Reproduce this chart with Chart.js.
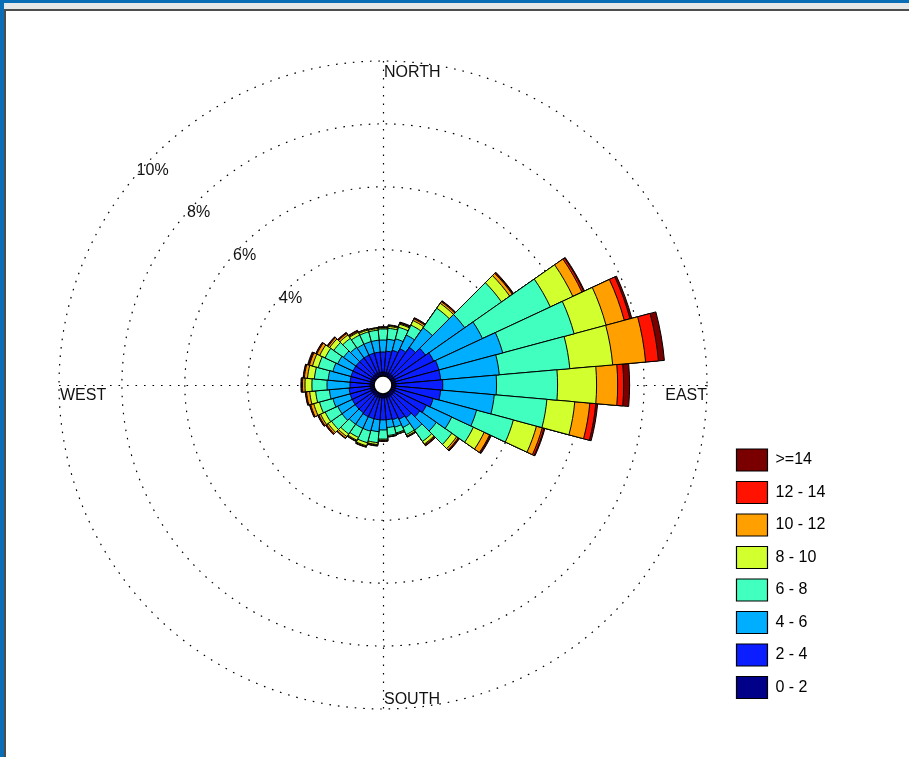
<!DOCTYPE html>
<html>
<head>
<meta charset="utf-8">
<script src="https://cdn.jsdelivr.net/npm/chart.js@4.4.1/dist/chart.umd.min.js"></script>
<style>
  html, body { margin: 0; padding: 0; background: #fff; width: 909px; height: 757px; overflow: hidden; }
  .bar { position: absolute; }
  #rose { position: absolute; left: 6px; top: 11px; }
</style>
</head>
<body>
<div class="bar" style="left:0;top:0;width:909px;height:3px;background:#0b6db6"></div>
<div class="bar" style="left:4px;top:3px;width:905px;height:6px;background:#e8e8e8"></div>
<div class="bar" style="left:0;top:0;width:4px;height:757px;background:#0b6db6"></div>
<div class="bar" style="left:4px;top:9px;width:905px;height:2px;background:#4d4d4d"></div>
<div class="bar" style="left:4px;top:9px;width:2px;height:748px;background:#4d4d4d"></div>
<canvas id="rose" width="903" height="746"></canvas>
<script>
// wind direction sectors, degrees clockwise from north
const directions = ['0','10','20','30','40','50','60','70','80','90','100','110',
  '120','130','140','150','160','170','180','190','200','210','220','230',
  '240','250','260','270','280','290','300','310','320','330','340','350'];

const speedClasses = ['0 - 2', '2 - 4', '4 - 6', '6 - 8', '8 - 10', '10 - 12', '12 - 14', '>=14'];

// frequency (%) of each speed class per direction
const freq0to2 = [0.11,0.11,0.11,0.11,0.11,0.11,0.11,0.11,0.11,0.11,0.11,0.11,
  0.11,0.11,0.11,0.11,0.11,0.11,0.11,0.11,0.11,0.11,0.11,0.11,
  0.11,0.11,0.11,0.11,0.11,0.11,0.11,0.11,0.11,0.11,0.11,0.11];
const freq2to4 = [0.64,0.67,0.73,0.86,1.05,1.24,1.37,1.43,1.43,1.49,1.43,1.24,
  1.11,1.02,0.86,0.79,0.73,0.70,0.70,0.70,0.70,0.70,0.67,0.67,
  0.67,0.67,0.67,0.64,0.64,0.64,0.64,0.64,0.64,0.64,0.64,0.64];
const freq4to6 = [0.38,0.38,0.38,0.48,0.76,1.52,1.71,2.10,1.87,1.71,1.71,1.43,
  0.89,0.64,0.48,0.29,0.25,0.25,0.32,0.38,0.41,0.41,0.44,0.51,
  0.51,0.57,0.63,0.73,0.70,0.60,0.54,0.48,0.41,0.38,0.38,0.38];
const freq6to8 = [0.35,0.35,0.38,0.35,0.76,1.43,2.38,2.35,2.25,1.94,1.68,1.21,
  0.76,0.60,0.44,0.25,0.19,0.25,0.29,0.35,0.38,0.32,0.38,0.41,
  0.44,0.44,0.44,0.48,0.44,0.48,0.44,0.38,0.35,0.32,0.32,0.32];
const freq8to10 = [0.03,0.06,0.10,0.16,0.19,0.32,0.79,1.05,1.37,1.24,0.89,0.76,
  0.38,0.19,0.10,0.05,0.03,0.03,0.03,0.06,0.10,0.10,0.10,0.13,
  0.16,0.19,0.19,0.22,0.22,0.19,0.19,0.16,0.13,0.10,0.06,0.05];
const freq10to12 = [0.02,0.03,0.03,0.06,0.06,0.10,0.32,0.60,1.05,0.67,0.48,0.19,
  0.19,0.06,0.03,0.02,0.01,0.01,0.02,0.02,0.03,0.03,0.06,0.06,
  0.06,0.10,0.10,0.08,0.10,0.10,0.10,0.06,0.06,0.03,0.03,0.02];
const freq12to14 = [0.02,0.01,0.02,0.03,0.03,0.03,0.06,0.19,0.41,0.19,0.19,0.06,
  0.03,0.03,0.03,0.01,0.01,0.01,0.02,0.02,0.01,0.01,0.01,0.03,
  0.03,0.03,0.03,0.03,0.03,0.03,0.03,0.03,0.03,0.03,0.01,0.01];
const freq14up = [0.00,0.01,0.02,0.01,0.01,0.02,0.03,0.06,0.19,0.19,0.06,0.03,
  0.03,0.02,0.01,0.01,0.00,0.00,0.00,0.01,0.01,0.01,0.01,0.01,
  0.01,0.01,0.01,0.02,0.01,0.03,0.01,0.01,0.01,0.01,0.00,0.00];

const ringTicks = [4, 6, 8, 10];
const ringLabels = ['4%', '6%', '8%', '10%'];
const compassLabels = ['NORTH', 'EAST', 'SOUTH', 'WEST'];

const classColors = ['#000088', '#0a1eff', '#00aeff', '#40ffbf', '#d2ff2e', '#ffa000', '#ff1200', '#7a0000'];
const FONT = '16px "Liberation Sans", Arial, sans-serif';
const DOTS = [1.6, 6.9];

const seriesList = [freq0to2, freq2to4, freq4to6, freq6to8, freq8to10, freq10to12, freq12to14, freq14up];

// polarArea has no stacking, so each class is drawn as a cumulative ring; the
// smallest total comes first so Chart.js paints it on top
function buildDatasets() {
    const running = directions.map(() => 0);
    return seriesList.map((series, k) => {
        const cum = series.map((v, i) => (running[i] += v));
        return {
            label: speedClasses[k],
            data: cum.map(v => +v.toFixed(3)),
            backgroundColor: classColors[k],
            borderColor: '#000',
            borderWidth: 1
        };
    });
}

const roseDecor = {
    id: 'roseDecor',
    beforeDatasetsDraw(chart) {
        const sc = chart.scales.r;
        const ctx = chart.ctx;
        const xc = sc.xCenter, yc = sc.yCenter;
        const R = sc.getDistanceFromCenterForValue(ringTicks[ringTicks.length - 1]);
        ctx.save();
        ctx.strokeStyle = '#000';
        ctx.lineWidth = 1.2;
        ctx.setLineDash(DOTS);
        ctx.beginPath();
        ctx.moveTo(xc + 0.5, yc - R);
        ctx.lineTo(xc + 0.5, yc + R);
        ctx.moveTo(xc - R, yc + 0.5);
        ctx.lineTo(xc + R, yc + 0.5);
        ctx.stroke();
        ctx.restore();
    },
    afterDatasetsDraw(chart) {
        const sc = chart.scales.r;
        const ctx = chart.ctx;
        const xc = sc.xCenter, yc = sc.yCenter;
        const R = sc.getDistanceFromCenterForValue(ringTicks[ringTicks.length - 1]);
        ctx.save();
        // calm hole in the middle
        ctx.beginPath();
        ctx.arc(xc, yc, sc.getDistanceFromCenterForValue(0) - 0.5, 0, Math.PI * 2);
        ctx.fillStyle = '#fff';
        ctx.fill();
        ctx.strokeStyle = '#000';
        ctx.lineWidth = 1.5;
        ctx.stroke();

        ctx.font = FONT;
        ctx.fillStyle = '#111';
        ctx.textAlign = 'left';
        ctx.textBaseline = 'top';
        ctx.fillText(compassLabels[0], xc + 1, yc - R + 4);
        ctx.fillText(compassLabels[3], xc - R + 1, yc + 3);
        ctx.textAlign = 'right';
        ctx.fillText(compassLabels[1], xc + R, yc + 3);
        ctx.textAlign = 'left';
        ctx.textBaseline = 'bottom';
        ctx.fillText(compassLabels[2], xc + 1, yc + R - 1);

        // ring labels along the north-west diagonal
        const a = -47 * Math.PI / 180;
        ctx.textAlign = 'center';
        ctx.textBaseline = 'middle';
        ringTicks.forEach((v, i) => {
            const r = sc.getDistanceFromCenterForValue(v) - 9;
            ctx.fillText(ringLabels[i], xc + r * Math.sin(a), yc - r * Math.cos(a));
        });
        ctx.restore();
    }
};

new Chart(document.getElementById('rose').getContext('2d'), {
    type: 'polarArea',
    data: {
        labels: directions,
        datasets: buildDatasets()
    },
    plugins: [roseDecor],
    options: {
        responsive: false,
        animation: false,
        events: [],
        layout: {
            padding: { top: 50, bottom: 48, left: 34.5, right: 73.7 }
        },
        scales: {
            r: {
                min: -0.3,
                max: 10,
                startAngle: -5,
                ticks: { display: false },
                afterBuildTicks: (s) => { s.ticks = ringTicks.map(v => ({ value: v })); },
                grid: { circular: true, color: '#000', lineWidth: 1.2 },
                border: { dash: DOTS },
                angleLines: { display: false },
                pointLabels: { display: false }
            }
        },
        plugins: {
            tooltip: { enabled: false },
            legend: {
                position: 'right',
                align: 'end',
                reverse: true,
                labels: {
                    boxWidth: 31,
                    boxHeight: 22,
                    padding: 10.5,
                    color: '#111',
                    font: { family: '"Liberation Sans", Arial, sans-serif', size: 16 },
                    generateLabels: (chart) => chart.data.datasets.map((ds, i) => ({
                        text: ds.label,
                        fillStyle: ds.backgroundColor,
                        strokeStyle: '#000',
                        lineWidth: 1.2,
                        hidden: false,
                        datasetIndex: i
                    }))
                }
            }
        }
    }
});
</script>
</body>
</html>
